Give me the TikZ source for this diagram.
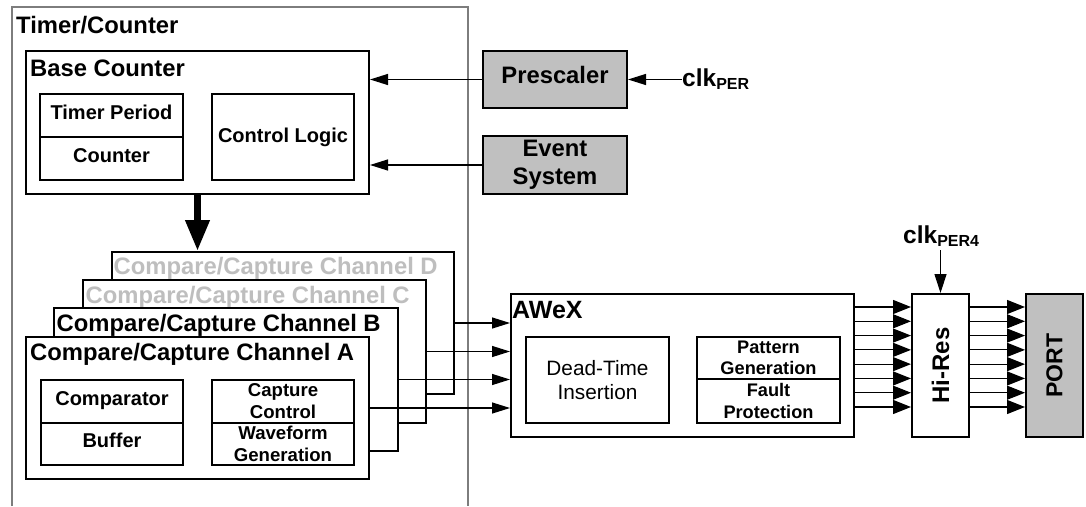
\documentclass[tikz,border=0pt]{standalone}
\usepackage{fontspec}
\usepackage{graphicx}
\setmainfont{Liberation Sans}
\usetikzlibrary{arrows.meta}
\definecolor{fillgray}{RGB}{192,192,192}
\definecolor{txtgray}{RGB}{190,190,190}
\definecolor{framegray}{RGB}{125,125,125}
\begin{document}
\begin{tikzpicture}[x=1pt,y=-1pt,
  bx/.style={draw, line width=2pt, fill=white, inner sep=0pt, anchor=north west, align=center},
  gbx/.style={bx, fill=fillgray},
  hdr/.style={anchor=base west, inner sep=0pt, font=\bfseries\fontsize{23.8}{27}\selectfont},
  one/.style={text height=0.72em, text depth=0pt},
  fa/.style={font=\bfseries\fontsize{20}{22}\selectfont},
  fb/.style={font=\bfseries\fontsize{18.6}{22}\selectfont},
  fc/.style={font=\bfseries\fontsize{18.2}{21.5}\selectfont},
  fbig/.style={font=\bfseries\fontsize{23.8}{28}\selectfont},
  arr/.style={line width=1.2pt, -{Triangle[length=18pt,width=11pt]}},
  arrb/.style={line width=1.2pt, -{Triangle[length=18pt,width=14pt]}},
  bigarr/.style={line width=7pt, -{Triangle[length=31pt,width=23pt]}},
  frame/.style={draw=framegray, line width=1.3pt}
]
\useasboundingbox (0,0) rectangle (1086,506);
% Timer/Counter frame
\draw[frame] (12,506) -- (12,7) -- (468,7) -- (468,506);
\node[hdr] (tclbl) at (16,33) {Timer/Counter};
% Base counter
\node[bx, minimum width=343pt, minimum height=143pt] (base) at (25,50) {};
\node[hdr] (bclbl) at (30,76) {Base Counter};
\node[bx, fa, one, minimum width=143pt, minimum height=43pt] (tp) at (39,93) {Timer Period};
\node[bx, fa, one, minimum width=143pt, minimum height=43pt] (cnt) at (39,136) {Counter};
\node[bx, fa, minimum width=142pt, minimum height=86pt] (ctl) at (211,93) {Control Logic};
% Prescaler, Event system
\node[gbx, fbig, one, minimum width=144pt, minimum height=57pt] (pre) at (482,50) {Prescaler};
\node[gbx, fbig, minimum width=144pt, minimum height=58pt] (evs) at (482,135) {Event\\System};
\node[anchor=base west, inner sep=0pt, font=\bfseries\fontsize{24.5}{28}\selectfont] (clkper) at (682,86) {clk\raisebox{-3pt}{\fontsize{16}{18}\selectfont PER}};
\draw[arr] (clkper.west |- pre.east) -- (pre.east);
\draw[arr] (pre.west) -- (pre.west -| base.east);
\draw[arr] (evs.west) -- (evs.west -| base.east);
% Channels
\node[bx, minimum width=342pt, minimum height=142pt] (chD) at (111,251) {};
\node[hdr, text=txtgray] (dlbl) at (113.5,274.5) {Compare/Capture Channel D};
\node[bx, minimum width=343pt, minimum height=143pt] (chC) at (82,279) {};
\node[hdr, text=txtgray] (clbl) at (85.5,303) {Compare/Capture Channel C};
\node[bx, minimum width=344pt, minimum height=143pt] (chB) at (53,307) {};
\node[hdr] (blbl) at (56.5,331.5) {Compare/Capture Channel B};
\node[bx, minimum width=343pt, minimum height=142pt] (chA) at (25,336) {};
\node[hdr] (albl) at (30,360) {Compare/Capture Channel A};
\node[bx, fa, one, minimum width=142pt, minimum height=43pt] (cmp) at (40,379) {Comparator};
\node[bx, fa, one, minimum width=142pt, minimum height=42pt] (buf) at (40,422) {Buffer};
\node[bx, fb, minimum width=142pt, minimum height=43pt] (capc) at (211,379) {Capture\\Control};
\node[bx, fb, minimum width=142pt, minimum height=42pt] (wfg) at (211,422) {Waveform\\Generation};
\draw[bigarr] (base.south) -- (base.south |- chD.north);
% AWeX
\node[bx, minimum width=343pt, minimum height=143pt] (awex) at (510,293) {};
\node[hdr, font=\bfseries\fontsize{25}{28}\selectfont] (awlbl) at (512,318) {AWeX};
\node[bx, font=\fontsize{20.8}{24}\selectfont, minimum width=143pt, minimum height=86pt] (dti) at (525,336) {Dead-Time\\Insertion};
\node[bx, fc, minimum width=143pt, minimum height=42pt] (patg) at (696,336) {Pattern\\Generation};
\node[bx, fc, minimum width=143pt, minimum height=44pt] (fltp) at (696,378) {Fault\\Protection};
\foreach \n in {chD,chC,chB,chA}{
  \draw[arr] (\n.east) -- (\n.east -| awex.west);
}
% Hi-Res and PORT
\node[bx, minimum width=57pt, minimum height=143pt, font=\bfseries\fontsize{24}{28}\selectfont] (hires) at (911,293) {\rotatebox{90}{Hi-Res}};
\node[gbx, minimum width=57pt, minimum height=143pt, font=\bfseries\fontsize{23}{28}\selectfont] (port) at (1025,293) {\rotatebox{90}{PORT}};
\foreach \i in {0,...,7}{
  \coordinate (r\i) at (0,{307+\i*14.286});
  \draw[arrb] (awex.east |- r\i) -- (hires.west |- r\i);
  \draw[arrb] (hires.east |- r\i) -- (port.west |- r\i);
}
\node[anchor=base west, inner sep=0pt, font=\bfseries\fontsize{24.5}{28}\selectfont] (clk4) at (903,243) {clk\raisebox{-3pt}{\fontsize{16}{18}\selectfont PER4}};
\coordinate (c4) at (hires.north |- 0,250);
\draw[line width=1.2pt, -{Triangle[length=19pt,width=12pt]}] (c4) -- (hires.north);
\end{tikzpicture}
\end{document}
